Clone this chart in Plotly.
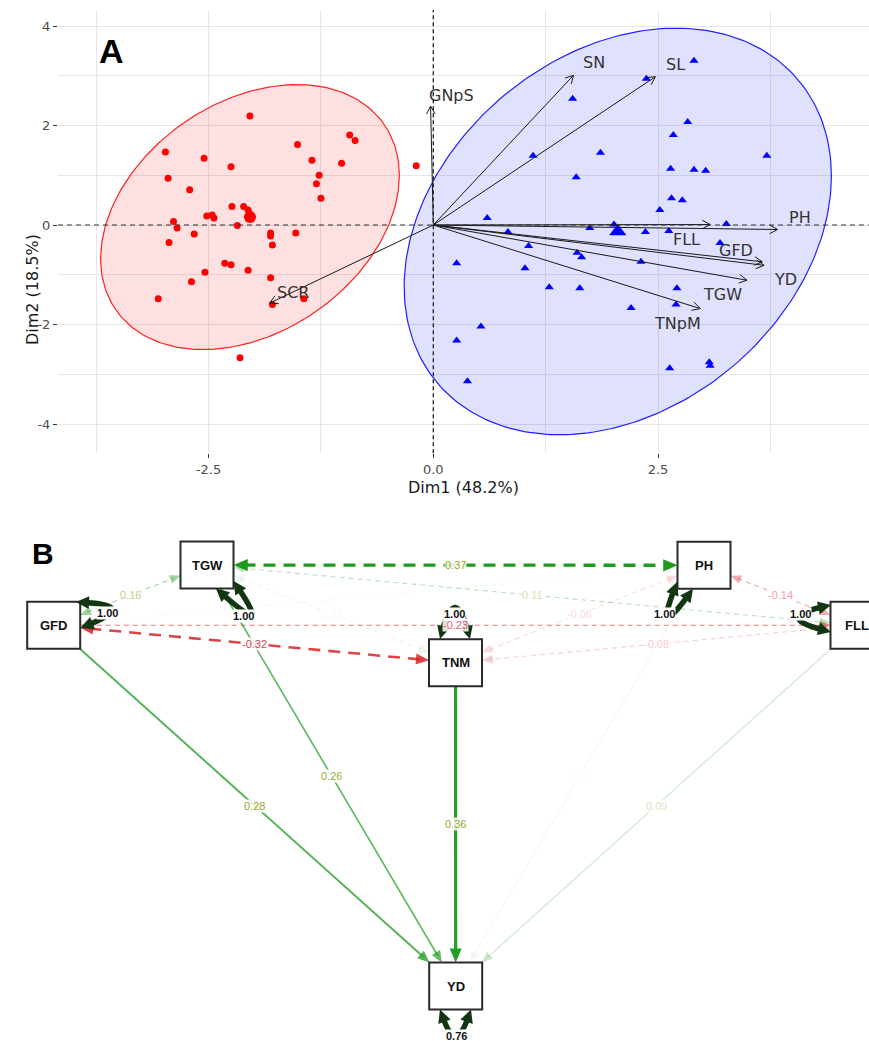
import math
import numpy as np
import plotly.graph_objects as go

W, H = 869, 1041

# ---------------- Panel A: PCA biplot data ----------------
red_dim1 = [-2.04, -2.98, -2.55, -2.25, -1.51, -0.93, -0.87, -1.35, -1.02, -0.19, -2.95, -1.27, -1.30,
            -2.71, -1.25, -2.24, -2.11, -2.06, -2.06, -2.02, -2.04, -2.52, -2.46, -2.44, -2.89, -2.85,
            -2.18, -2.66, -1.53, -1.81, -1.81, -2.94, -1.79, -2.32, -2.25, -2.54, -2.06, -1.81, -2.69,
            -3.06, -1.44, -1.79, -2.15]
red_dim2 = [2.19, 1.47, 1.34, 1.17, 1.62, 1.81, 1.70, 1.30, 1.24, 1.19, 0.94, 1.00, 0.83,
            0.71, 0.54, 0.37, 0.37, 0.30, 0.17, 0.17, 0.22, 0.18, 0.20, 0.14, 0.07, -0.06,
            -0.01, -0.18, -0.16, -0.16, -0.22, -0.35, -0.40, -0.77, -0.80, -0.95, -0.91, -1.06, -1.14,
            -1.48, -1.48, -1.60, -2.67]
blue_dim1 = [2.90, 2.37, 1.55, 2.83, 2.67, 1.86, 1.11, 3.71, 1.59, 2.64, 2.90, 3.03, 2.65, 2.77,
             2.52, 0.60, 2.01, 3.26, 1.74, 2.36, 2.62, 0.83, 3.19, 0.26, 1.06, 1.60, 1.65, 2.31,
             1.02, 1.29, 1.63, 2.71, 2.20, 2.70, 0.53, 0.26, 2.63, 3.07, 3.08, 0.38]
blue_dim2 = [3.30, 2.94, 2.54, 2.07, 1.81, 1.45, 1.39, 1.39, 0.96, 1.13, 1.11, 1.09, 0.54, 0.50,
             0.30, 0.14, 0.01, 0.02, -0.06, -0.14, -0.12, -0.14, -0.36, -0.77, -0.42, -0.56, -0.65, -0.74,
             -0.87, -1.25, -1.27, -1.27, -1.67, -1.60, -2.04, -2.32, -2.88, -2.76, -2.83, -3.14]

var_names = ["GNpS", "SN", "SL", "PH", "FLL", "GFD", "YD", "TGW", "TNpM", "SCR"]
var_dim1 = [-0.03, 1.56, 2.47, 3.83, 3.08, 3.66, 3.68, 3.49, 2.97, -1.82]
var_dim2 = [2.39, 3.01, 2.98, -0.09, 0.01, -0.74, -0.81, -1.11, -1.68, -1.57]

x_tickvals = [-2.5, 0.0, 2.5]
x_ticktext = ["-2.5", "0.0", "2.5"]
y_tickvals = [-4, -2, 0, 2, 4]
y_ticktext = ["-4", "-2", "0", "2", "4"]
x_title = "Dim1 (48.2%)"
y_title = "Dim2 (18.5%)"

# ---------------- Panel B: path diagram data ----------------
node_names = ["GFD", "TGW", "TNM", "PH", "FLL", "YD"]
node_variance = [1.00, 1.00, 1.00, 1.00, 1.00, 0.76]
edge_from = ["TGW", "GFD", "GFD", "GFD", "TGW", "TGW", "PH", "FLL", "PH", "GFD",
             "GFD", "TGW", "TNM", "FLL", "PH"]
edge_to = ["PH", "TGW", "TNM", "FLL", "FLL", "TNM", "TNM", "TNM", "FLL", "PH",
           "YD", "YD", "YD", "YD", "YD"]
edge_value = [0.37, 0.16, -0.32, -0.23, 0.11, 0.03, -0.06, -0.08, -0.14, 0.01,
              0.28, 0.26, 0.36, 0.09, 0.01]
edge_kind = ["cov"] * 10 + ["reg"] * 5

# ---------------- layout constants ----------------
XR = [-4.175, 4.847]
YR = [-4.589, 4.322]
A_DOM_X = [58 / W, 1.0]
A_DOM_Y = [1 - 453.3 / H, 1 - 10 / H]
SX = (A_DOM_X[1] - A_DOM_X[0]) * W / (XR[1] - XR[0])
SY = (A_DOM_Y[1] - A_DOM_Y[0]) * H / (YR[1] - YR[0])
B_TOP = 500.0
FONT_A = "DejaVu Sans"
FONT_B = "Liberation Sans, Arial"

LABEL_SHIFT = {"GNpS": (21, 11), "SN": (20, 13), "SL": (20, 12), "PH": (22, 12),
               "FLL": (-24, -15), "GFD": (-26, 11), "YD": (21, -14), "TGW": (-25, -14),
               "TNpM": (-23, -15), "SCR": (23, 11)}

NODE_XY = {"GFD": (53.7, 625.3), "TGW": (207.0, 565.0), "TNM": (455.5, 662.7),
           "PH": (704.0, 565.3), "FLL": (857.0, 625.3), "YD": (455.7, 986.0)}
BOX_W, BOX_H = 53.0, 47.0
# self loops: start, end, apex, label position (pixels)
LOOPS = {"GFD": ((76, 602), (80.5, 628), (108, 610), (107, 613)),
         "TGW": ((216, 588.5), (233.5, 581), (248, 611), (243, 616)),
         "TNM": ((440, 639), (470, 639), (455, 612), (454, 614)),
         "PH": ((677, 582), (693, 588.8), (670, 613), (664, 614)),
         "FLL": ((831, 605), (831, 632), (803, 618), (800, 614)),
         "YD": ((440, 1009.5), (471, 1009.5), (455.5, 1031), (456, 1036))}

fig = go.Figure()


def conf_ellipse(xs, ys, level=0.95, n=240):
    pts = np.column_stack([xs, ys])
    m = pts.mean(axis=0)
    C = np.cov(pts.T)
    dfd = len(xs) - 1
    fq = (dfd / 2.0) * ((1 - level) ** (-2.0 / dfd) - 1)
    r = math.sqrt(2 * fq)
    L = np.linalg.cholesky(C)
    t = np.linspace(0, 2 * np.pi, n)
    circ = np.vstack([np.cos(t), np.sin(t)])
    e = m[:, None] + r * (L @ circ)
    return e[0], e[1], m


groups = [(red_dim1, red_dim2, "255,0,0", "#ff2020", "circle", 7, 12),
          (blue_dim1, blue_dim2, "0,0,255", "#2020ff", "triangle-up", 8, 15)]
means = []
for xs, ys, rgb, lc, sym, ms, msm in groups:
    ex, ey, m = conf_ellipse(xs, ys)
    means.append(m)
    fig.add_trace(go.Scatter(x=ex, y=ey, mode="lines", fill="toself",
                             fillcolor=f"rgba({rgb},0.12)", line=dict(color=lc, width=1.2),
                             hoverinfo="skip", showlegend=False, xaxis="x", yaxis="y"))
for (xs, ys, rgb, lc, sym, ms, msm), m in zip(groups, means):
    col = f"rgb({rgb})"
    fig.add_trace(go.Scatter(x=xs, y=ys, mode="markers",
                             marker=dict(symbol=sym, size=ms, color=col, line=dict(width=0)),
                             showlegend=False, xaxis="x", yaxis="y"))
    fig.add_trace(go.Scatter(x=[m[0]], y=[m[1]], mode="markers",
                             marker=dict(symbol=sym, size=msm, color=col, line=dict(width=0)),
                             showlegend=False, xaxis="x", yaxis="y"))

# variable arrows
ax, ay = [], []
for x, y in zip(var_dim1, var_dim2):
    ax += [0, x, None]
    ay += [0, y, None]
    px, py = x * SX, y * SY
    nrm = math.hypot(px, py)
    ux, uy = px / nrm, py / nrm
    pts = []
    for ang in (0.5, -0.5):
        c, s = math.cos(ang), math.sin(ang)
        hx, hy = ux * c - uy * s, ux * s + uy * c
        pts.append(((px - 9 * hx) / SX, (py - 9 * hy) / SY))
    ax += [pts[0][0], x, pts[1][0], None]
    ay += [pts[0][1], y, pts[1][1], None]
fig.add_trace(go.Scatter(x=ax, y=ay, mode="lines", line=dict(color="#1a1a1a", width=1),
                         hoverinfo="skip", showlegend=False, xaxis="x", yaxis="y"))

annotations = []
for name, x, y in zip(var_names, var_dim1, var_dim2):
    dx, dy = LABEL_SHIFT[name]
    annotations.append(dict(x=x, y=y, xref="x", yref="y", text=name, showarrow=False,
                            xshift=dx, yshift=dy, font=dict(family=FONT_A, size=16, color="#333333")))

shapes = [
    dict(type="line", xref="x", yref="y domain", x0=0, x1=0, y0=0, y1=1,
         line=dict(color="#222222", width=1.3, dash="4px,3px"), layer="above"),
    dict(type="line", xref="x domain", yref="y", x0=0, x1=1, y0=0, y1=0,
         line=dict(color="#333333", width=1.1, dash="5px,4px"), layer="above"),
]

# axis titles & panel letters
annotations += [
    dict(x=(58 + 869) / 2 / W, y=1 - 487 / H, xref="paper", yref="paper", text=x_title,
         showarrow=False, font=dict(family=FONT_A, size=16, color="#1a1a1a")),
    dict(x=21 / W, y=1 - 232 / H, xref="paper", yref="paper", text=y_title, textangle=-90,
         showarrow=False, font=dict(family=FONT_A, size=16, color="#1a1a1a")),
    dict(x=97 / W, y=1 - 30 / H, xref="paper", yref="paper", text="<b>A</b>",
         showarrow=False, font=dict(family=FONT_B, size=34, color="#000000")),
    dict(x=30 / W, y=1 - 553 / H, xref="paper", yref="paper", text="<b>B</b>",
         showarrow=False, font=dict(family=FONT_B, size=30, color="#000000")),
]

# ---------------- Panel B drawing ----------------
GREEN = (30, 155, 30)
RED = (214, 39, 40)
VMAX = max(abs(v) for v in edge_value)


def box_exit(c, o):
    dx, dy = o[0] - c[0], o[1] - c[1]
    tx = (BOX_W / 2) / abs(dx) if dx else 1e9
    ty = (BOX_H / 2) / abs(dy) if dy else 1e9
    t = min(tx, ty)
    return (c[0] + dx * t, c[1] + dy * t)


def head(tip, frm, L, Wd):
    ux, uy = tip[0] - frm[0], tip[1] - frm[1]
    n = math.hypot(ux, uy)
    ux, uy = ux / n, uy / n
    bx, by = tip[0] - ux * L, tip[1] - uy * L
    qx, qy = -uy, ux
    path = (f"M {tip[0]:.2f},{tip[1]:.2f} L {bx + qx * Wd / 2:.2f},{by + qy * Wd / 2:.2f} "
            f"L {bx - qx * Wd / 2:.2f},{by - qy * Wd / 2:.2f} Z")
    return path, (bx + ux * L * 0.3, by + uy * L * 0.3)


edge_shapes, head_shapes = [], []
for f, t, v, k in zip(edge_from, edge_to, edge_value, edge_kind):
    cf, ct = NODE_XY[f], NODE_XY[t]
    a = max(0.06, abs(v) / VMAX)
    base = GREEN if v > 0 else RED
    col = f"rgba({base[0]},{base[1]},{base[2]},{a:.2f})"
    lw = 1.1 if abs(v) < 0.25 else 1.5 + (abs(v) - 0.25) * 15
    L = 9 + 1.6 * lw
    Wd = 7 + 1.6 * lw
    p0 = box_exit(cf, ct)
    p1 = box_exit(ct, cf)
    hp1, b1 = head(p1, p0, L, Wd)
    head_shapes.append(dict(type="path", xref="x2", yref="y2", path=hp1, fillcolor=col,
                            line=dict(width=0)))
    s0 = p0
    if k == "cov":
        hp0, b0 = head(p0, p1, L, Wd)
        head_shapes.append(dict(type="path", xref="x2", yref="y2", path=hp0, fillcolor=col,
                                line=dict(width=0)))
        s0 = b0
    dash = "solid" if k == "reg" else ("12px,8px" if lw > 2 else "5px,4px")
    edge_shapes.append(dict(type="line", xref="x2", yref="y2", x0=s0[0], y0=s0[1], x1=b1[0], y1=b1[1],
                            line=dict(color=col, width=lw, dash=dash)))
    mx, my = (cf[0] + ct[0]) / 2, (cf[1] + ct[1]) / 2
    la = min(1.0, 1.4 * abs(v) / VMAX)
    lab_rgb = (150, 170, 40) if v > 0 else (225, 60, 90)
    annotations.append(dict(x=mx, y=my, xref="x2", yref="y2", text=f"{v:.2f}", showarrow=False,
                            bgcolor="rgba(255,255,255,0.85)", borderpad=0,
                            font=dict(family=FONT_B, size=11,
                                      color=f"rgba({lab_rgb[0]},{lab_rgb[1]},{lab_rgb[2]},{la:.2f})")))

shapes += edge_shapes + head_shapes

# node boxes
for name in node_names:
    cx, cy = NODE_XY[name]
    shapes.append(dict(type="rect", xref="x2", yref="y2", x0=cx - BOX_W / 2, x1=cx + BOX_W / 2,
                       y0=cy - BOX_H / 2, y1=cy + BOX_H / 2, fillcolor="white",
                       line=dict(color="#2a2a2a", width=2)))
    annotations.append(dict(x=cx, y=cy, xref="x2", yref="y2", text=f"<b>{name}</b>", showarrow=False,
                            font=dict(family=FONT_B, size=13, color="#111111")))

# variance self-loops
LOOP_COL = "#123512"
for name, var in zip(node_names, node_variance):
    s, e, apex, lab = LOOPS[name]
    c = (2 * apex[0] - (s[0] + e[0]) / 2, 2 * apex[1] - (s[1] + e[1]) / 2)
    hs, bs = head(s, c, 13, 13)
    he, be = head(e, c, 13, 13)
    shapes.append(dict(type="path", xref="x2", yref="y2",
                       path=f"M {bs[0]:.2f},{bs[1]:.2f} Q {c[0]:.2f},{c[1]:.2f} {be[0]:.2f},{be[1]:.2f}",
                       line=dict(color=LOOP_COL, width=5.5)))
    shapes.append(dict(type="path", xref="x2", yref="y2", path=hs, fillcolor=LOOP_COL, line=dict(width=0)))
    shapes.append(dict(type="path", xref="x2", yref="y2", path=he, fillcolor=LOOP_COL, line=dict(width=0)))
    annotations.append(dict(x=lab[0], y=lab[1], xref="x2", yref="y2", text=f"<b>{var:.2f}</b>",
                            showarrow=False, bgcolor="white", borderpad=0,
                            font=dict(family=FONT_B, size=11, color="#111111")))

# invisible anchor trace for panel B axes
fig.add_trace(go.Scatter(x=[NODE_XY[n][0] for n in node_names], y=[NODE_XY[n][1] for n in node_names],
                         mode="markers", marker=dict(size=1, opacity=0), hoverinfo="skip",
                         showlegend=False, xaxis="x2", yaxis="y2"))

grid = "#e6e6e6"
fig.update_layout(
    width=W, height=H, margin=dict(l=0, r=0, t=0, b=0),
    paper_bgcolor="white", plot_bgcolor="white", showlegend=False,
    xaxis=dict(domain=A_DOM_X, range=XR, tickmode="array", tickvals=x_tickvals, ticktext=x_ticktext,
               showgrid=True, gridcolor=grid, gridwidth=1.3, zeroline=False, showline=False,
               ticks="outside", ticklen=4, tickcolor="#333333", tickwidth=1.2,
               tickfont=dict(family=FONT_A, size=13, color="#4d4d4d"),
               minor=dict(tickmode="array", tickvals=[-3.75, -1.25, 1.25, 3.75], showgrid=True,
                          gridcolor=grid, gridwidth=1.1, ticks=""),
               anchor="y", fixedrange=True),
    yaxis=dict(domain=A_DOM_Y, range=YR, tickmode="array", tickvals=y_tickvals, ticktext=y_ticktext,
               showgrid=True, gridcolor=grid, gridwidth=1.3, zeroline=False, showline=False,
               ticks="outside", ticklen=4, tickcolor="#333333", tickwidth=1.2,
               tickfont=dict(family=FONT_A, size=13, color="#4d4d4d"),
               minor=dict(tickmode="array", tickvals=[-3, -1, 1, 3], showgrid=True,
                          gridcolor=grid, gridwidth=1.1, ticks=""),
               anchor="x", fixedrange=True),
    xaxis2=dict(domain=[0, 1], range=[0, W], visible=False, anchor="y2", fixedrange=True),
    yaxis2=dict(domain=[0, 1 - B_TOP / H], range=[H, B_TOP], visible=False, anchor="x2", fixedrange=True),
    shapes=shapes, annotations=annotations,
)

fig.write_html("out.html", config={"displayModeBar": False},
               post_script="document.body.style.margin='0';document.body.style.padding='0';"
                           "document.documentElement.style.overflow='hidden';")
